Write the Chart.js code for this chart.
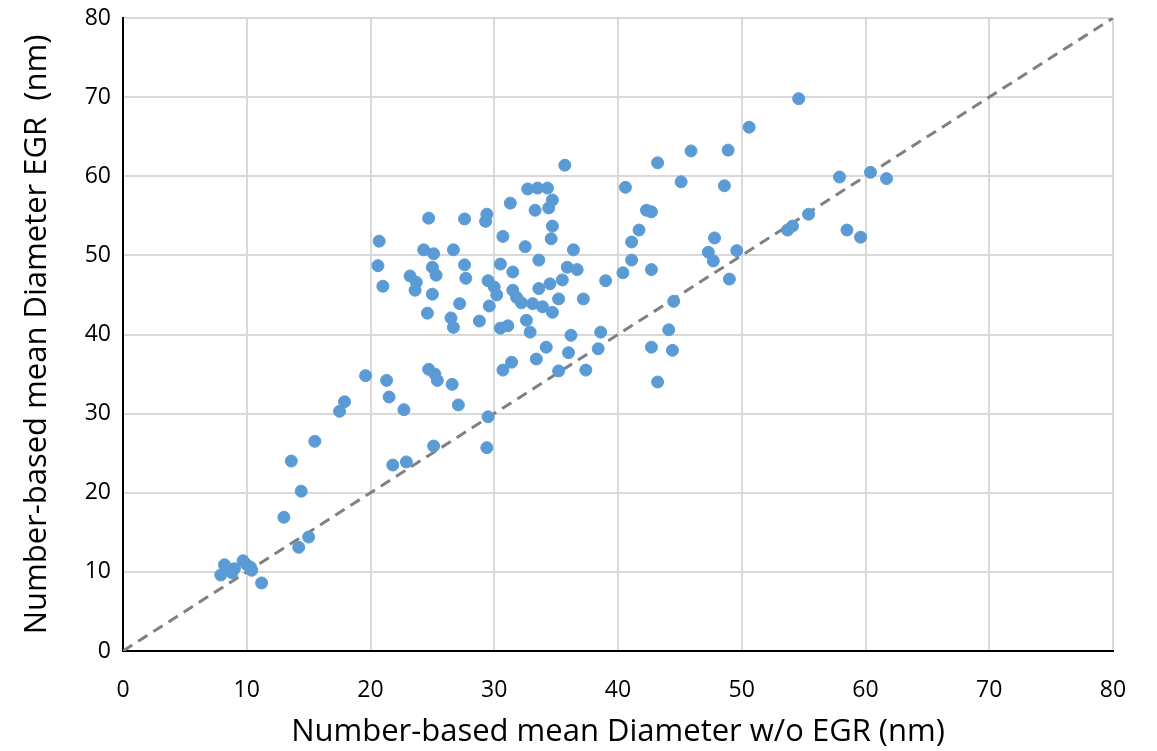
<!DOCTYPE html>
<html>
<head>
<meta charset="utf-8">
<title>Mean diameter EGR vs w/o EGR</title>
<script src="https://cdn.jsdelivr.net/npm/chart.js@4/dist/chart.umd.min.js"></script>
<style>
  html, body { margin: 0; padding: 0; background: #fff; }
  #wrap { width: 1157px; height: 751px; }
</style>
</head>
<body>
<div id="wrap"><canvas id="myChart"></canvas></div>
<script>
// mean diameter without EGR (nm)
const woEgr = [
  17.5, 17.9, 15.5, 13.6, 14.4, 13.0, 15.0, 14.2, 8.2, 7.9, 8.8, 9.0, 9.7, 10.0, 10.3, 10.4, 11.2,
  19.6, 21.3, 21.5, 22.7, 24.7, 25.2, 25.4, 26.6, 27.1, 25.1, 21.8, 22.9, 29.5, 29.4, 30.7, 31.4, 33.4,
  20.7, 24.7, 27.6, 29.3, 29.4, 31.3, 32.7, 33.5, 33.3, 30.7, 32.5, 20.6, 21.0, 24.3, 25.1, 26.7,
  25.0, 25.3, 23.2, 23.7, 23.6, 27.6, 27.7, 25.0, 24.6, 27.2, 26.5, 26.7, 28.8, 29.6, 29.5, 30.0,
  30.2, 30.5, 31.5, 33.6, 33.6, 31.5, 31.8, 32.2, 33.1, 30.5, 31.1, 32.6, 32.9,
  35.7, 43.2, 45.9, 34.3, 34.7, 34.4, 34.7, 34.6, 36.4, 35.9, 36.7, 35.5, 34.5, 35.2, 37.2, 33.9,
  34.7, 36.2, 38.6, 39.0, 40.4, 41.1, 42.7, 40.6, 45.1, 42.3, 42.7, 41.7, 41.1, 47.8, 47.3, 47.7,
  44.5, 44.1, 34.2, 36.0, 38.4, 42.7, 44.4, 35.2, 37.4, 43.2,
  54.6, 50.6, 48.9, 48.6, 57.9, 60.4, 61.7, 55.4, 54.1, 53.7, 58.5, 59.6, 49.6, 49.0
];
// mean diameter with EGR (nm)
const withEgr = [
  30.3, 31.5, 26.5, 24.0, 20.2, 16.9, 14.4, 13.1, 10.9, 9.6, 9.9, 10.4, 11.4, 10.9, 10.6, 10.2, 8.6,
  34.8, 34.2, 32.1, 30.5, 35.6, 35.0, 34.2, 33.7, 31.1, 25.9, 23.5, 23.9, 29.6, 25.7, 35.5, 36.5, 36.9,
  51.8, 54.7, 54.6, 54.3, 55.2, 56.6, 58.4, 58.5, 55.7, 52.4, 51.1, 48.7, 46.1, 50.7, 50.2, 50.7,
  48.5, 47.5, 47.4, 46.6, 45.6, 48.8, 47.1, 45.1, 42.7, 43.9, 42.1, 40.9, 41.7, 43.6, 46.8, 46.0,
  45.0, 48.9, 47.9, 49.4, 45.8, 45.6, 44.7, 44.0, 43.9, 40.8, 41.1, 41.8, 40.3,
  61.4, 61.7, 63.2, 58.5, 57.0, 56.0, 53.7, 52.1, 50.7, 48.5, 48.2, 46.9, 46.4, 44.5, 44.5, 43.5,
  42.8, 39.9, 40.3, 46.8, 47.8, 49.4, 48.2, 58.6, 59.3, 55.7, 55.5, 53.2, 51.7, 52.2, 50.4, 49.3,
  44.2, 40.6, 38.4, 37.7, 38.2, 38.4, 38.0, 35.4, 35.5, 34.0,
  69.8, 66.2, 63.3, 58.8, 59.9, 60.5, 59.7, 55.2, 53.7, 53.2, 53.2, 52.3, 50.6, 47.0
];
// 1:1 reference line
const lineX = [0, 80];
const lineY = [0, 80];
const axisTicks = [0, 10, 20, 30, 40, 50, 60, 70, 80];

const points = woEgr.map((x, i) => ({ x: x, y: withEgr[i] }));
const diagonal = lineX.map((x, i) => ({ x: x, y: lineY[i] }));

const tickFont = { family: "'Open Sans', sans-serif", size: 23 };
const titleFont = { family: "'Open Sans', sans-serif", size: 31 };

const ctx = document.getElementById("myChart").getContext("2d");
const myChart = new Chart(ctx, {
  type: "scatter",
  data: {
    datasets: [
      {
        label: "Data",
        data: points,
        backgroundColor: "#5B9BD5",
        borderColor: "#5B9BD5",
        borderWidth: 1,
        pointRadius: 6,
        order: 1,
      },
      {
        type: "line",
        label: "1:1",
        data: diagonal,
        borderColor: "#808080",
        borderWidth: 3,
        borderDash: [11, 7],
        pointRadius: 0,
        fill: false,
        order: 2,
      },
    ],
  },
  options: {
    responsive: true,
    maintainAspectRatio: false,
    animation: false,
    layout: { padding: { left: 0, right: 44, top: 18, bottom: 0 } },
    plugins: {
      legend: { display: false },
      tooltip: { enabled: false },
    },
    scales: {
      x: {
        type: "linear",
        min: 0,
        max: 80,
        afterBuildTicks: (scale) => { scale.ticks = axisTicks.map((v) => ({ value: v })); },
        afterFit: (scale) => { scale.height = 100; scale.paddingRight = 0; },
        grid: { color: "#d9d9d9", lineWidth: 2, drawTicks: false },
        border: { color: "#000", width: 2 },
        ticks: { color: "#000", font: tickFont, padding: 26 },
        title: {
          display: true,
          text: "Number-based mean Diameter w/o EGR (nm)",
          color: "#000",
          font: titleFont,
          padding: { top: 2, bottom: 0 },
        },
      },
      y: {
        type: "linear",
        min: 0,
        max: 80,
        afterBuildTicks: (scale) => { scale.ticks = axisTicks.map((v) => ({ value: v })); },
        afterFit: (scale) => { scale.width = 123; scale.paddingTop = 0; scale.paddingBottom = 0; },
        grid: { color: "#d9d9d9", lineWidth: 2, drawTicks: false },
        border: { color: "#000", width: 2 },
        ticks: { color: "#000", font: tickFont, padding: 12 },
        title: {
          display: true,
          text: "Number-based mean Diameter EGR  (nm)",
          color: "#000",
          font: titleFont,
          padding: { top: 19, bottom: 0 },
        },
      },
    },
  },
});
</script>
</body>
</html>
